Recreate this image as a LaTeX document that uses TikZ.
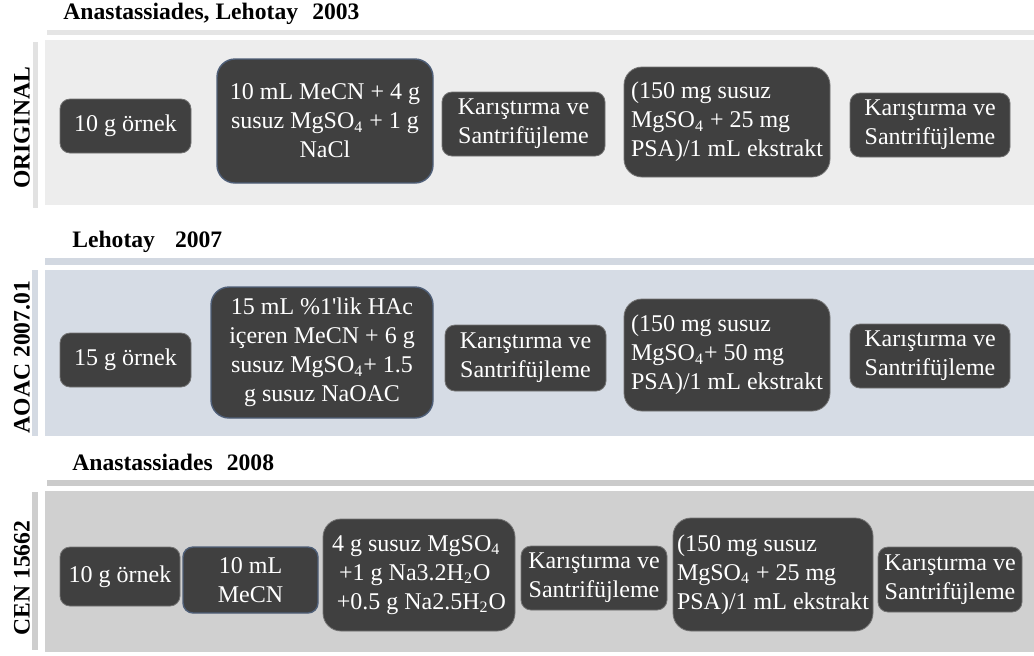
\documentclass[tikz,border=0pt]{standalone}
\usepackage{fontspec}
\setmainfont{Liberation Serif}
\definecolor{boxgray}{HTML}{404040}
\definecolor{edgeblue}{HTML}{4F5F78}
\definecolor{panelA}{HTML}{EDEDED}
\definecolor{stripA}{HTML}{E5E5E5}
\definecolor{barA}{HTML}{E2E2E2}
\definecolor{panelB}{HTML}{D6DCE5}
\definecolor{stripB}{HTML}{D2D8E1}
\definecolor{barB}{HTML}{D4DAE3}
\definecolor{panelC}{HTML}{D0D0D0}
\definecolor{stripC}{HTML}{CBCBCB}
\definecolor{barC}{HTML}{CECECE}

\begin{document}
\begin{tikzpicture}[x=0.5pt,y=-0.5pt,
  every node/.style={font=\fontsize{12}{14.5}\selectfont},
  stepbox/.style={fill=boxgray,draw=black!55,line width=0.4pt,text=white,
    rounded corners=5pt,align=center,inner sep=1pt},
  bigbox/.style={stepbox,rounded corners=9pt},
  bluerim/.style={draw=edgeblue,line width=0.7pt},
  head/.style={anchor=west,inner sep=0pt,font=\fontsize{11.8}{14}\selectfont\bfseries},
  side/.style={rotate=90,font=\fontsize{11.8}{14}\selectfont\bfseries}]
\useasboundingbox (0,0) rectangle (1034,655);

\fill[stripA] (47,30) rectangle (1034,35);
\fill[panelA] (45,40) rectangle (1034,205);
\fill[barA] (33,42) rectangle (38,208);
\fill[stripB] (45,258) rectangle (1034,265);
\fill[panelB] (45,270) rectangle (1034,436);
\fill[barB] (32,270) rectangle (38,436);
\fill[stripC] (47,480) rectangle (1034,486);
\fill[panelC] (45,491) rectangle (1034,652);
\fill[barC] (32,492) rectangle (38,650);

\node[head] (t1) at (63,14) {Anastassiades, Lehotay\hspace{0.6em}2003};
\node[head] (t2) at (72,242) {Lehotay\hspace{0.85em}2007};
\node[head] (t3) at (72,462) {Anastassiades\hspace{0.6em}2008};

\node[side] (s1) at (22,128) {ORIGINAL};
\node[side] (s2) at (22,357) {AOAC 2007.01};
\node[side] (s3) at (22,578) {CEN 15662};

\node[stepbox,minimum width=65.5pt,minimum height=27pt] (o1) at (125.5,126) {10 g örnek};
\node[bigbox,bluerim,minimum width=108pt,minimum height=62pt] (o2) at (325,121)
  {10 mL MeCN + 4 g\\susuz MgSO\textsubscript{4} + 1 g\\NaCl};
\node[stepbox,minimum width=81.5pt,minimum height=32pt] (o3) at (523.5,124)
  {Karıştırma ve\\Santrifüjleme};
\node[bigbox,align=left,minimum width=103pt,minimum height=55pt] (o4) at (727,122)
  {(150 mg susuz\\MgSO\textsubscript{4} + 25 mg\\PSA)/1 mL ekstrakt};
\node[stepbox,minimum width=80pt,minimum height=32pt] (o5) at (930,125)
  {Karıştırma ve\\Santrifüjleme};

\node[stepbox,minimum width=65.5pt,minimum height=27pt] (a1) at (125.5,360) {15 g örnek};
\node[bigbox,bluerim,minimum width=111pt,minimum height=65.5pt] (a2) at (322,352.5)
  {15 mL \%1\textquotesingle lik HAc\\içeren MeCN + 6 g\\susuz MgSO\textsubscript{4}+ 1.5\\g susuz NaOAC};
\node[stepbox,minimum width=80.5pt,minimum height=33pt] (a3) at (525.5,358)
  {Karıştırma ve\\Santrifüjleme};
\node[bigbox,align=left,minimum width=103pt,minimum height=56pt] (a4) at (727,355)
  {(150 mg susuz\\MgSO\textsubscript{4}+ 50 mg\\PSA)/1 mL ekstrakt};
\node[stepbox,minimum width=80pt,minimum height=32pt] (a5) at (930,356)
  {Karıştırma ve\\Santrifüjleme};

\node[stepbox,minimum width=60pt,minimum height=29.5pt] (c1) at (120,576.5) {10 g örnek};
\node[stepbox,bluerim,minimum width=67.5pt,minimum height=33pt] (c2) at (250.5,580)
  {10 mL\\MeCN};
\node[bigbox,align=left,minimum width=96pt,minimum height=56pt] (c3) at (419,575)
  {4 g susuz MgSO\textsubscript{4}\\\hspace*{0.3em}+1 g Na3.2H\textsubscript{2}O\\\hspace*{0.2em}+0.5 g Na2.5H\textsubscript{2}O};
\node[stepbox,minimum width=73pt,minimum height=32pt] (c4) at (594,578)
  {Karıştırma ve\\Santrifüjleme};
\node[bigbox,align=left,minimum width=100pt,minimum height=56.5pt] (c5) at (773,574.5)
  {(150 mg susuz\\MgSO\textsubscript{4} + 25 mg\\PSA)/1 mL ekstrakt};
\node[stepbox,minimum width=72pt,minimum height=32.5pt] (c6) at (950,579.5)
  {Karıştırma ve\\Santrifüjleme};
\end{tikzpicture}
\end{document}
